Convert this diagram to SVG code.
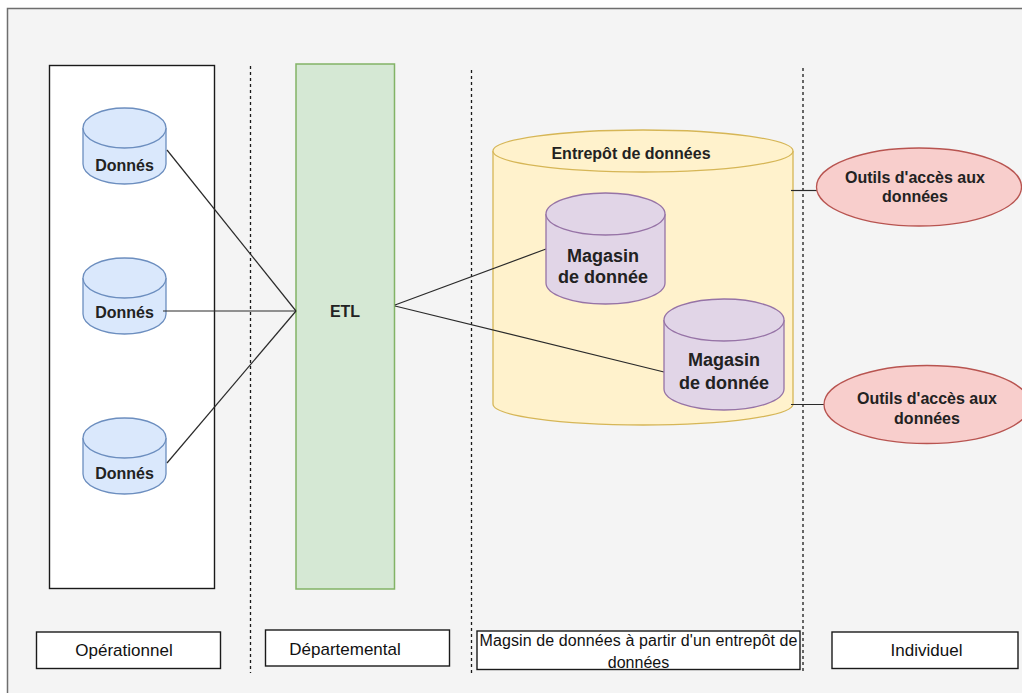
<svg xmlns="http://www.w3.org/2000/svg" width="1022" height="693" viewBox="0 0 1022 693">
  <style>
    .panel { fill: #f4f4f4; stroke: #6e6e6e; stroke-width: 1.5; }
    .frame { fill: #ffffff; stroke: #1a1a1a; stroke-width: 1.4; }
    .lane { fill: none; stroke: #1a1a1a; stroke-width: 1.3; stroke-dasharray: 3 3; }
    .src { fill: #dae8fc; stroke: #6c8ebf; stroke-width: 1.3; }
    .etl { fill: #d5e8d4; stroke: #82b366; stroke-width: 1.5; }
    .dw { fill: #fff2cc; stroke: #d6b656; stroke-width: 1.3; }
    .mart { fill: #e1d5e7; stroke: #9673a6; stroke-width: 1.3; }
    .tool { fill: #f8cecc; stroke: #b85450; stroke-width: 1.3; }
    .tag { fill: #ffffff; stroke: #1a1a1a; stroke-width: 1.4; }
    .edge { fill: none; stroke: #2a2a2a; stroke-width: 1.2; }
    text { font-family: "Liberation Sans", Arial, sans-serif; fill: #222222; text-anchor: middle; dominant-baseline: central; }
    .b16 { font-size: 16px; font-weight: bold; }
    .b18 { font-size: 18px; font-weight: bold; }
    .r16 { font-size: 16px; fill: #111111; }
    .r17 { font-size: 17px; fill: #111111; }
  </style>

  <!-- background panel -->
  <rect class="panel" x="7.5" y="8.5" width="1030" height="700"/>

  <!-- operational frame -->
  <rect class="frame" x="49.5" y="65.5" width="165" height="523"/>

  <!-- lane separators -->
  <g id="lanes">
    <line class="lane" x1="250.5" y1="66" x2="250.5" y2="673"/>
    <line class="lane" x1="471.5" y1="70" x2="471.5" y2="673"/>
    <line class="lane" x1="803" y1="68" x2="803" y2="673"/>
  </g>

  <!-- source databases -->
  <g id="source-1">
    <path class="src" d="M83 128 A41.5 20 0 0 1 166 128 L166 164 A41.5 20 0 0 1 83 164 Z"/>
    <path class="src" d="M83 128 A41.5 20 0 0 0 166 128"/>
    <text class="b16" x="124.5" y="165">Donnés</text>
  </g>
  <g id="source-2">
    <path class="src" d="M83 278 A41.5 20 0 0 1 166 278 L166 314 A41.5 20 0 0 1 83 314 Z"/>
    <path class="src" d="M83 278 A41.5 20 0 0 0 166 278"/>
    <text class="b16" x="124.5" y="312">Donnés</text>
  </g>
  <g id="source-3">
    <path class="src" d="M83 438 A41.5 20 0 0 1 166 438 L166 474 A41.5 20 0 0 1 83 474 Z"/>
    <path class="src" d="M83 438 A41.5 20 0 0 0 166 438"/>
    <text class="b16" x="124.5" y="473">Donnés</text>
  </g>

  <!-- ETL stage -->
  <g id="etl">
    <rect class="etl" x="296" y="64" width="98.5" height="525"/>
    <text class="b16" x="345" y="311">ETL</text>
  </g>

  <!-- data warehouse -->
  <g id="warehouse">
    <path class="dw" d="M493 151 A150 21 0 0 1 793 151 L793 404 A150 21 0 0 1 493 404 Z"/>
    <path class="dw" d="M493 151 A150 21 0 0 0 793 151"/>
    <text class="b16" x="631" y="153">Entrepôt de données</text>
  </g>

  <!-- connectors (above the warehouse body) -->
  <g id="connectors">
    <line class="edge" x1="167" y1="150" x2="296" y2="311"/>
    <line class="edge" x1="163" y1="311" x2="296" y2="311"/>
    <line class="edge" x1="167" y1="463" x2="296" y2="311"/>
    <line class="edge" x1="395" y1="305" x2="546" y2="249"/>
    <line class="edge" x1="395" y1="306" x2="664" y2="372"/>
    <line class="edge" x1="791" y1="190.5" x2="817" y2="190.5"/>
    <line class="edge" x1="791" y1="404.5" x2="824" y2="404.5"/>
  </g>

  <!-- data marts -->
  <g id="mart-1">
    <path class="mart" d="M546 214 A59.5 21 0 0 1 665 214 L665 283 A59.5 21 0 0 1 546 283 Z"/>
    <path class="mart" d="M546 214 A59.5 21 0 0 0 665 214"/>
    <text class="b18" x="603" y="256">Magasin</text>
    <text class="b18" x="603" y="277">de donnée</text>
  </g>
  <g id="mart-2">
    <path class="mart" d="M664 320 A60 21 0 0 1 784 320 L784 389 A60 21 0 0 1 664 389 Z"/>
    <path class="mart" d="M664 320 A60 21 0 0 0 784 320"/>
    <text class="b18" x="724" y="360">Magasin</text>
    <text class="b18" x="724" y="383">de donnée</text>
  </g>

  <!-- access tools -->
  <g id="tool-1">
    <ellipse class="tool" cx="919" cy="187" rx="102.5" ry="39"/>
    <text class="b16" x="915" y="177">Outils d'accès aux</text>
    <text class="b16" x="915" y="196">données</text>
  </g>
  <g id="tool-2">
    <ellipse class="tool" cx="927" cy="404.5" rx="103" ry="39"/>
    <text class="b16" x="927" y="398">Outils d'accès aux</text>
    <text class="b16" x="927" y="418">données</text>
  </g>

  <!-- level labels -->
  <g id="label-operationnel">
    <rect class="tag" x="36.5" y="632" width="184" height="36.5"/>
    <text class="r17" x="124" y="650">Opérationnel</text>
  </g>
  <g id="label-departemental">
    <rect class="tag" x="265.5" y="630" width="184" height="36"/>
    <text class="r17" x="345" y="649">Départemental</text>
  </g>
  <g id="label-magasin">
    <rect class="tag" x="477" y="631" width="323" height="38.5"/>
    <text class="r16" x="638.5" y="640" textLength="318">Magsin de données à partir d'un entrepôt de</text>
    <text class="r16" x="638.5" y="662">données</text>
  </g>
  <g id="label-individuel">
    <rect class="tag" x="832" y="632" width="186" height="36.5"/>
    <text class="r17" x="926.5" y="650">Individuel</text>
  </g>
</svg>
